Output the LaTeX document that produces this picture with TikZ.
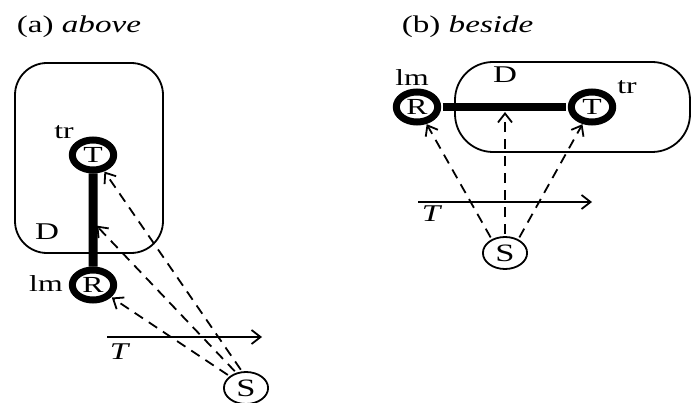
\documentclass[tikz,border=0pt]{standalone}
\usepackage{fontspec}
\setmainfont{Liberation Serif}
\usetikzlibrary{arrows.meta}

\begin{document}
\begin{tikzpicture}[x=1pt, y=-1pt, line width=1.8pt, >={Straight Barb[length=9pt, width=14pt]},
		every node/.style={xscale=1.38, font=\fontsize{24}{26}\selectfont},
		objring/.style={circle, draw, line width=7pt, inner sep=0pt, minimum size=30pt, font=\fontsize{23}{25}\selectfont},
		srcring/.style={circle, draw, inner sep=0pt, minimum size=32pt, font=\fontsize{25}{27}\selectfont},
		tag/.style={font=\fontsize{23}{25}\selectfont},
		sight/.style={->, dash pattern=on 10pt off 7pt, shorten <=2pt}]
	\useasboundingbox (0,0) rectangle (692,403);
	
	% (a) above
	\node[anchor=base west] (titleA) at (11,33) {(a) \textit{above}};
	\draw[rounded corners=32pt] (15,63) rectangle (163,253);
	\node (dA) at (47,232) {D};
	\node[objring] (tA) at (93,155) {T};
	\node[objring] (rA) at (93,285) {R};
	\node[tag] (trA) at (64,132) {tr};
	\node[tag] (lmA) at (46,284) {lm};
	\node[srcring] (sA) at (246,388) {S};
	\draw[line width=9pt] (tA) -- (rA);
	\coordinate (mA) at (93,222);
	\draw[sight] (sA.135) -- (rA);
	\draw[sight, shorten >=5pt] (sA.115) -- (mA);
	\draw[sight] (sA.100) -- (tA);
	\coordinate (t0A) at (107,337); \coordinate (t1A) at (262,337);
	\draw[->] (t0A) -- (t1A);
	\node (tlA) at (120,352) {\textit{T}};
	
	% (b) beside
	\node[anchor=base west] (titleB) at (396,33) {(b) \textit{beside}};
	\draw[rounded corners=38pt] (455,62) rectangle (690,152);
	\node (dB) at (505,75) {D};
	\node[objring] (rB) at (417,107) {R};
	\node[objring] (tB) at (592,107) {T};
	\node[tag] (lmB) at (412,78) {lm};
	\node[tag] (trB) at (627,87) {tr};
	\node[srcring] (sB) at (505,253) {S};
	\draw[line width=8pt] (rB) -- (tB);
	\coordinate (mB) at (505,107);
	\draw[sight] (sB.125) -- (rB);
	\draw[sight, shorten >=5pt] (sB.90) -- (mB);
	\draw[sight] (sB.55) -- (tB);
	\coordinate (t0B) at (418,202); \coordinate (t1B) at (592,202);
	\draw[->] (t0B) -- (t1B);
	\node (tlB) at (432,214) {\textit{T}};
\end{tikzpicture}
\end{document}
